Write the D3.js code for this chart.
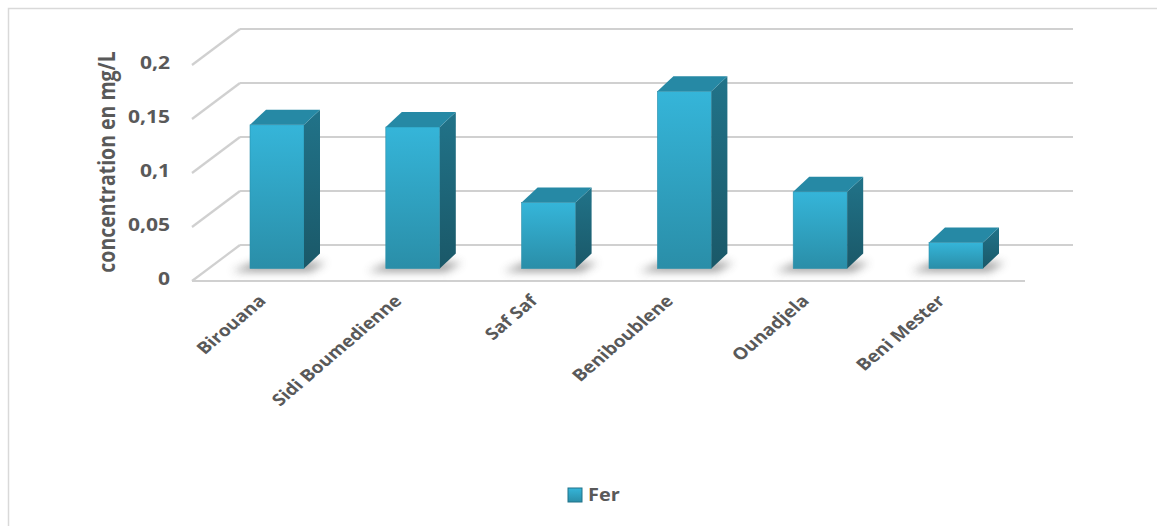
<!DOCTYPE html>
<html>
<head>
<meta charset="utf-8">
<script src="https://cdn.jsdelivr.net/npm/d3@7"></script>
<style>
  body { margin: 0; background: #fff; }
  svg { display: block; }
  text { font-family: "Open Sans", Lato, sans-serif; font-weight: bold; fill: #595959; }
</style>
</head>
<body>
<script>
const categories = ['Birouana', 'Sidi Boumedienne', 'Saf Saf', 'Beniboublene', 'Ounadjela', 'Beni Mester']
const ferValues = [0.133, 0.131, 0.061, 0.164, 0.071, 0.024]
const tickValues = [0, 0.05, 0.1, 0.15, 0.2]
const tickLabels = ['0', '0,05', '0,1', '0,15', '0,2']
const seriesName = 'Fer'
const yTitle = 'concentration en mg/L'

const width = 1157
const height = 526

// the original picture is a bit wider than tall, so texts get stretched sideways
const stretch = 1.17

// depth of the 3d box: from back wall to front edge
const depthX = -48
const depthY = 36
// bars sit part way between back and front
const barDepth = 0.68
const barW = 54
const sideX = 16
const sideY = -15

const svg = d3.select('body').append('svg').attr('width', width).attr('height', height)

const defs = svg.append('defs')
const gFront = defs.append('linearGradient').attr('id', 'front').attr('x1', 0).attr('y1', 0).attr('x2', 0).attr('y2', 1)
gFront.append('stop').attr('offset', '0%').attr('stop-color', '#35b5d9')
gFront.append('stop').attr('offset', '100%').attr('stop-color', '#2a8ea8')
const gSide = defs.append('linearGradient').attr('id', 'side').attr('x1', 0).attr('y1', 0).attr('x2', 0).attr('y2', 1)
gSide.append('stop').attr('offset', '0%').attr('stop-color', '#217389')
gSide.append('stop').attr('offset', '100%').attr('stop-color', '#1a5868')
defs.append('filter').attr('id', 'blur').attr('x', '-50%').attr('y', '-100%').attr('width', '200%').attr('height', '300%')
  .append('feGaussianBlur').attr('stdDeviation', 4)

// chart frame
svg.append('rect').attr('x', 8.5).attr('y', 8.5).attr('width', 1200).attr('height', 600)
  .attr('fill', 'none').attr('stroke', '#d9d9d9').attr('stroke-width', 1.5)

const yBack = d3.scaleLinear().domain([0, 0.2]).range([245, 29])
const yBar = d3.scaleLinear().domain([0, 0.2]).range([245 + depthY * barDepth - 1, 29 + depthY * barDepth - 1])
const x = d3.scalePoint().domain(categories).range([277, 956])

const backLeft = 240
const backRight = 1073

// grid lines: back wall lines + left wall diagonals
const grid = svg.append('g').attr('stroke', '#d0d0d0').attr('stroke-width', 2.2).attr('fill', 'none')
tickValues.forEach((t) => {
  const yb = yBack(t)
  grid.append('line').attr('x1', backLeft).attr('y1', yb).attr('x2', backRight).attr('y2', yb)
  grid.append('line').attr('x1', backLeft).attr('y1', yb).attr('x2', backLeft + depthX).attr('y2', yb + depthY)
})
// floor front edge
grid.append('line')
  .attr('x1', backLeft + depthX).attr('y1', yBack(0) + depthY)
  .attr('x2', backRight + depthX).attr('y2', yBack(0) + depthY)

// y tick labels
svg.append('g').selectAll('text').data(tickValues).enter().append('text')
  .attr('transform', (d) => `translate(170,${yBack(d) + depthY - 2}) scale(${stretch},1)`)
  .attr('dy', '0.35em')
  .attr('text-anchor', 'end')
  .attr('font-size', 18)
  .text((d, i) => tickLabels[i])

// y title
svg.append('text')
  .attr('transform', `translate(115,162) scale(${stretch},1) rotate(-90)`)
  .attr('text-anchor', 'middle')
  .attr('font-size', 19.5)
  .text(yTitle)

// bars
const bars = svg.append('g').selectAll('g').data(categories).enter().append('g')

bars.append('path')
  .attr('d', (d) => {
    const x0 = x(d) - barW / 2
    const y0 = yBar(0)
    return `M${x0 - 18},${y0 + 3} L${x0 + barW + 6},${y0 + 3} L${x0 + barW + 22},${y0 - 6} L${x0 + 4},${y0 - 6} Z`
  })
  .attr('fill', '#555').attr('opacity', 0.6).attr('filter', 'url(#blur)')

bars.append('rect')
  .attr('x', (d) => x(d) - barW / 2)
  .attr('y', (d, i) => yBar(ferValues[i]))
  .attr('width', barW)
  .attr('height', (d, i) => yBar(0) - yBar(ferValues[i]))
  .attr('fill', 'url(#front)')
  .attr('stroke', '#2b8fab').attr('stroke-width', 0.6)

bars.append('path')
  .attr('d', (d, i) => {
    const x1 = x(d) + barW / 2
    const yt = yBar(ferValues[i])
    const yb = yBar(0)
    return `M${x1},${yt} L${x1 + sideX},${yt + sideY} L${x1 + sideX},${yb + sideY} L${x1},${yb} Z`
  })
  .attr('fill', 'url(#side)')

bars.append('path')
  .attr('d', (d, i) => {
    const x0 = x(d) - barW / 2
    const yt = yBar(ferValues[i])
    return `M${x0},${yt} L${x0 + barW},${yt} L${x0 + barW + sideX},${yt + sideY} L${x0 + sideX},${yt + sideY} Z`
  })
  .attr('fill', '#2689a5')

// category labels
svg.append('g').selectAll('text').data(categories).enter().append('text')
  .attr('transform', (d) => `translate(${x(d) - 10},${302}) scale(${stretch},1) rotate(-45)`)
  .attr('text-anchor', 'end')
  .attr('font-size', 16.5)
  .text((d) => d)

// legend
const legend = svg.append('g').attr('transform', 'translate(568,488)')
legend.append('rect').attr('width', 14).attr('height', 14).attr('fill', 'url(#front)')
  .attr('stroke', '#217389').attr('stroke-width', 1)
legend.append('text').attr('transform', `translate(20,7) scale(${stretch},1)`)
  .attr('dy', '0.35em').attr('font-size', 17).text(seriesName)
</script>
</body>
</html>
